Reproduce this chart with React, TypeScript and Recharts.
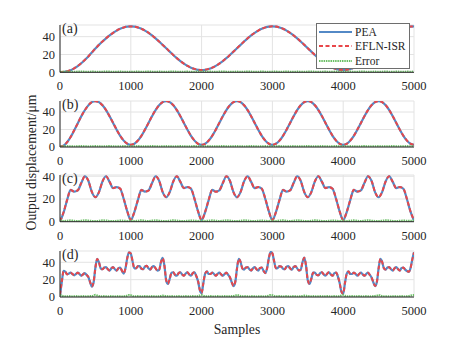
import { LineChart, Line, XAxis, YAxis, CartesianGrid, Legend } from 'recharts'

// sample index grids
const SAMPLES_50 = Array.from({ length: 101 }, (_, i) => i * 50)
const SAMPLES_25 = Array.from({ length: 201 }, (_, i) => i * 25)
const X_TICKS = [0, 1000, 2000, 3000, 4000, 5000]
const Y_TICKS = [0, 20, 40]
const SERIES_NAMES = ['PEA', 'EFLN-ISR', 'Error']
const PANEL_LABELS = ['(a)', '(b)', '(c)', '(d)']
const X_LABEL = 'Samples'
const Y_LABEL = 'Output displacement/μm'

// (a) slow sine, step 50
const PEA_A = [
  0, 0.3, 1.0, 2.4, 4.4, 7.0, 10.2, 13.8, 17.8, 22.2, 26.6, 30.8, 34.6, 38.1, 41.4, 44.3, 46.8, 48.8, 50.3, 51.2, 51.5,
  51.2, 50.3, 48.8, 46.8, 44.3, 41.4, 38.1, 34.6, 30.8, 27.0, 23.2, 19.4, 15.9, 12.6, 9.7, 7.2, 5.2, 3.7, 2.8, 2.5,
  2.8, 3.7, 5.2, 7.2, 9.7, 12.6, 15.9, 19.4, 23.2, 27.0, 30.8, 34.6, 38.1, 41.4, 44.3, 46.8, 48.8, 50.3, 51.2, 51.5,
  51.2, 50.3, 48.8, 46.8, 44.3, 41.4, 38.1, 34.6, 30.8, 27.0, 23.2, 19.4, 15.9, 12.6, 9.7, 7.2, 5.2, 3.7, 2.8, 2.5,
  2.8, 3.7, 5.2, 7.2, 9.7, 12.6, 15.9, 19.4, 23.2, 27.0, 30.8, 34.6, 38.1, 41.4, 44.3, 46.8, 48.8, 50.3, 51.2, 51.5,
]
const EFLN_A = [
  0.2, 0.5, 1.2, 2.5, 4.5, 7.1, 10.2, 13.9, 17.8, 22.3, 26.6, 30.9, 34.6, 38.2, 41.4, 44.3, 46.9, 48.8, 50.3, 51.3, 51.5,
  51.3, 50.3, 48.9, 46.8, 44.4, 41.4, 38.1, 34.7, 30.8, 27.1, 23.2, 19.5, 15.9, 12.7, 9.7, 7.3, 5.2, 3.8, 2.9, 2.6,
  2.9, 3.8, 5.2, 7.3, 9.7, 12.7, 15.9, 19.5, 23.2, 27.1, 30.8, 34.7, 38.1, 41.5, 44.3, 46.9, 48.8, 50.4, 51.2, 51.6,
  51.3, 50.3, 48.9, 46.8, 44.4, 41.4, 38.2, 34.6, 30.9, 27.0, 23.3, 19.4, 16.0, 12.6, 9.8, 7.2, 5.3, 3.7, 2.9, 2.5,
  2.9, 3.7, 5.3, 7.2, 9.8, 12.6, 16.0, 19.4, 23.3, 27.0, 30.9, 34.6, 38.2, 41.4, 44.4, 46.8, 48.9, 50.3, 51.3, 51.5,
]
const ERR_A = [
  0.4, 0.5, 0.7, 0.6, 0.5, 0.7, 0.8, 0.6, 0.5, 0.7, 0.6, 0.5, 0.6, 0.8, 0.7, 0.5, 0.6, 0.7, 0.5, 0.6, 0.5,
  0.6, 0.7, 0.5, 0.6, 0.8, 0.6, 0.5, 0.7, 0.6, 0.5, 0.7, 0.8, 0.6, 0.5, 0.6, 0.7, 0.5, 0.6, 0.7, 0.6,
  0.5, 0.7, 0.6, 0.5, 0.7, 0.8, 0.6, 0.5, 0.6, 0.7, 0.5, 0.6, 0.8, 0.7, 0.5, 0.6, 0.7, 0.6, 0.5, 0.6,
  0.7, 0.5, 0.6, 0.8, 0.6, 0.5, 0.7, 0.6, 0.5, 0.7, 0.8, 0.6, 0.5, 0.6, 0.7, 0.5, 0.6, 0.7, 0.6, 0.5,
  0.6, 0.7, 0.5, 0.6, 0.8, 0.7, 0.5, 0.6, 0.7, 0.5, 0.6, 0.8, 0.6, 0.5, 0.7, 0.6, 0.5, 0.7, 0.6, 0.8,
]

// (b) faster sine, step 50
const PEA_B = [
  0, 1.4, 5.4, 11.4, 19.0, 27.0, 35.0, 42.0, 47.6, 51.3, 52.5,
  51.3, 47.7, 42.2, 35.2, 27.5, 19.8, 12.8, 7.3, 3.7, 2.5,
  3.7, 7.3, 12.8, 19.8, 27.5, 35.2, 42.2, 47.7, 51.3, 52.5,
  51.3, 47.7, 42.2, 35.2, 27.5, 19.8, 12.8, 7.3, 3.7, 2.5,
  3.7, 7.3, 12.8, 19.8, 27.5, 35.2, 42.2, 47.7, 51.3, 52.5,
  51.3, 47.7, 42.2, 35.2, 27.5, 19.8, 12.8, 7.3, 3.7, 2.5,
  3.7, 7.3, 12.8, 19.8, 27.5, 35.2, 42.2, 47.7, 51.3, 52.5,
  51.3, 47.7, 42.2, 35.2, 27.5, 19.8, 12.8, 7.3, 3.7, 2.5,
  3.7, 7.3, 12.8, 19.8, 27.5, 35.2, 42.2, 47.7, 51.3, 52.5,
  51.3, 47.7, 42.2, 35.2, 27.5, 19.8, 12.8, 7.3, 3.7, 2.5,
]
const EFLN_B = [
  0.3, 1.6, 5.5, 11.5, 19.1, 27.0, 35.1, 42.0, 47.7, 51.3, 52.4,
  51.4, 47.7, 42.3, 35.2, 27.6, 19.8, 12.9, 7.3, 3.8, 2.6,
  3.8, 7.4, 12.8, 19.9, 27.5, 35.3, 42.2, 47.8, 51.3, 52.5,
  51.3, 47.8, 42.2, 35.3, 27.5, 19.9, 12.8, 7.4, 3.7, 2.6,
  3.7, 7.4, 12.9, 19.8, 27.6, 35.2, 42.3, 47.7, 51.4, 52.5,
  51.3, 47.7, 42.2, 35.2, 27.5, 19.8, 12.8, 7.3, 3.8, 2.5,
  3.8, 7.3, 12.9, 19.8, 27.5, 35.2, 42.3, 47.7, 51.3, 52.6,
  51.4, 47.7, 42.2, 35.3, 27.5, 19.9, 12.8, 7.3, 3.7, 2.6,
  3.7, 7.4, 12.8, 19.9, 27.5, 35.3, 42.2, 47.8, 51.3, 52.5,
  51.3, 47.8, 42.2, 35.2, 27.6, 19.8, 12.9, 7.3, 3.8, 2.6,
]
const ERR_B = [
  0.5, 0.7, 0.9, 0.7, 0.6, 0.8, 1.0, 0.8, 0.6, 0.7, 0.9,
  0.7, 0.6, 0.8, 1.0, 0.7, 0.6, 0.8, 0.9, 0.7, 0.6,
  0.8, 0.9, 0.7, 0.6, 0.8, 1.0, 0.8, 0.6, 0.7, 0.9,
  0.7, 0.6, 0.8, 0.9, 0.7, 0.6, 0.8, 1.0, 0.7, 0.6,
  0.8, 0.9, 0.7, 0.6, 0.8, 1.0, 0.7, 0.6, 0.8, 0.9,
  0.7, 0.6, 0.8, 1.0, 0.8, 0.6, 0.7, 0.9, 0.7, 0.6,
  0.8, 1.0, 0.7, 0.6, 0.8, 0.9, 0.7, 0.6, 0.8, 1.0,
  0.7, 0.6, 0.8, 0.9, 0.7, 0.6, 0.8, 1.0, 0.8, 0.6,
  0.7, 0.9, 0.7, 0.6, 0.8, 1.0, 0.7, 0.6, 0.8, 0.9,
  0.7, 0.6, 0.8, 1.0, 0.7, 0.6, 0.8, 0.9, 0.7, 0.8,
]

// (c) multi-harmonic, step 50
const PEA_C = [
  0, 8, 19, 28, 26.5, 27.5, 34, 40, 36, 26, 21.5, 26, 35.5, 40, 35, 29.5, 30.5, 29, 20, 9,
  1.5, 8.5, 19, 28, 26.5, 27.5, 34, 40, 36, 26, 21.5, 26, 35.5, 40, 35, 29.5, 30.5, 29, 20, 9,
  1.5, 8.5, 19, 28, 26.5, 27.5, 34, 40, 36, 26, 21.5, 26, 35.5, 40, 35, 29.5, 30.5, 29, 20, 9,
  1.5, 8.5, 19, 28, 26.5, 27.5, 34, 40, 36, 26, 21.5, 26, 35.5, 40, 35, 29.5, 30.5, 29, 20, 9,
  1.5, 8.5, 19, 28, 26.5, 27.5, 34, 40, 36, 26, 21.5, 26, 35.5, 40, 35, 29.5, 30.5, 29, 20, 9,
  1,
]
const EFLN_C = [
  0.4, 8.3, 19.2, 27.8, 26.6, 27.6, 34.2, 39.8, 36.1, 26.2, 21.6, 26.1, 35.4, 39.9, 35.2, 29.6, 30.4, 29.1, 20.2, 9.2,
  1.8, 8.6, 19.1, 27.9, 26.6, 27.4, 34.1, 39.9, 36.2, 26.1, 21.6, 26.2, 35.4, 40.0, 35.1, 29.6, 30.5, 29.2, 20.1, 9.1,
  1.7, 8.6, 19.2, 28.1, 26.4, 27.6, 34.1, 40.0, 35.9, 26.1, 21.4, 26.1, 35.6, 39.9, 35.1, 29.4, 30.6, 29.1, 20.2, 9.2,
  1.6, 8.4, 19.1, 27.9, 26.6, 27.5, 34.2, 39.9, 36.1, 26.2, 21.6, 26.1, 35.4, 40.0, 35.2, 29.6, 30.4, 29.0, 20.1, 9.1,
  1.7, 8.6, 19.1, 28.1, 26.5, 27.6, 34.1, 39.9, 36.1, 26.1, 21.5, 26.2, 35.5, 39.9, 35.1, 29.5, 30.5, 29.1, 20.2, 9.2,
  1.3,
]
const ERR_C = [
  1.2, 0.6, 0.8, 1.1, 0.7, 0.5, 0.8, 1.2, 0.9, 0.6, 0.5, 0.7, 1.1, 1.0, 0.6, 0.5, 0.7, 0.9, 0.8, 0.6,
  0.9, 0.6, 0.8, 1.2, 0.7, 0.5, 0.9, 1.1, 0.8, 0.6, 0.5, 0.8, 1.2, 0.9, 0.6, 0.5, 0.7, 1.0, 0.8, 0.6,
  1.0, 0.6, 0.8, 1.1, 0.8, 0.5, 0.8, 1.2, 0.9, 0.6, 0.5, 0.7, 1.1, 1.0, 0.6, 0.5, 0.8, 0.9, 0.7, 0.6,
  0.9, 0.6, 0.9, 1.2, 0.7, 0.5, 0.8, 1.1, 0.9, 0.6, 0.5, 0.7, 1.2, 0.9, 0.6, 0.5, 0.7, 1.0, 0.8, 0.6,
  1.0, 0.6, 0.8, 1.1, 0.7, 0.5, 0.9, 1.2, 0.8, 0.6, 0.5, 0.8, 1.1, 1.0, 0.6, 0.5, 0.7, 0.9, 0.8, 0.7,
  1.1,
]

// (d) stepped multi-tone, step 25
const PEA_D = [
  1, 17, 30, 29, 26, 27, 28, 26.5, 25, 26.5, 28, 26.5, 24.5, 26, 27.5, 25.5, 23, 17, 12, 17,
  34, 44, 40, 33, 32, 34, 34.5, 32, 30.5, 33, 34.5, 32, 30.5, 33, 34, 30, 27, 33, 45, 51.5,
  50, 41, 33, 33, 35.5, 35.5, 32.5, 32, 35, 36, 33, 31.5, 34.5, 35.5, 33, 30.5, 31, 40, 45, 36,
  19, 15, 21, 28, 28.5, 25.5, 24.5, 27.5, 28.5, 26, 24.5, 27, 28.5, 26, 24.5, 27.5, 28.5, 24, 18, 8,
  4.5, 16, 27, 29.5, 26.5, 26.5, 28, 26.5, 24.5, 26.5, 28, 26, 24.5, 26.5, 28, 25.5, 22.5, 17, 12.5, 17,
  33, 44, 40.5, 33, 31.5, 34, 34.5, 32, 30.5, 33, 34.5, 32, 30.5, 33.5, 34, 30, 27.5, 33, 45, 52,
  50, 41, 33, 33.5, 35.5, 35, 32.5, 32, 35, 35.5, 33, 31.5, 34.5, 35.5, 33, 30.5, 31.5, 40, 45.5, 36,
  19, 15, 21, 28, 28, 25.5, 25, 27.5, 28.5, 26, 24.5, 27, 28.5, 26, 24.5, 27.5, 28, 23.5, 16, 6,
  3.5, 16, 27, 29.5, 26.5, 26.5, 28, 26.5, 24.5, 26.5, 28, 26, 24.5, 26.5, 28, 25.5, 22.5, 17, 12.5, 17,
  33, 44, 40.5, 33, 31.5, 34, 34.5, 32, 30.5, 33, 34.5, 32, 30.5, 33.5, 34, 31.5, 30, 29, 33, 43,
  51.5,
]
const EFLN_D = [
  2.5, 17.5, 29.5, 29.2, 26.2, 27.1, 27.8, 26.6, 25.2, 26.4, 27.9, 26.6, 24.6, 26.1, 27.4, 25.6, 23.2, 17.3, 12.3, 17.4,
  33.6, 43.8, 40.2, 33.2, 32.1, 33.9, 34.4, 32.1, 30.6, 33.1, 34.4, 32.1, 30.6, 33.1, 33.9, 30.2, 27.3, 33.2, 44.8, 51.2,
  50.2, 41.3, 33.2, 33.1, 35.4, 35.4, 32.6, 32.1, 34.9, 35.9, 33.1, 31.6, 34.4, 35.4, 33.1, 30.6, 31.2, 39.8, 44.8, 36.3,
  19.3, 15.2, 21.2, 27.9, 28.4, 25.6, 24.6, 27.4, 28.4, 26.1, 24.6, 27.1, 28.4, 26.1, 24.6, 27.4, 28.4, 24.2, 18.3, 8.3,
  4.8, 16.3, 26.8, 29.4, 26.6, 26.6, 27.9, 26.6, 24.6, 26.4, 27.9, 26.1, 24.6, 26.4, 27.9, 25.6, 22.7, 17.2, 12.8, 17.3,
  32.8, 43.8, 40.4, 33.2, 31.6, 33.9, 34.4, 32.1, 30.6, 33.1, 34.4, 32.1, 30.6, 33.4, 33.9, 30.2, 27.7, 33.1, 44.8, 51.7,
  50.2, 41.3, 33.2, 33.6, 35.4, 35.1, 32.6, 32.1, 34.9, 35.4, 33.1, 31.6, 34.4, 35.4, 33.1, 30.6, 31.6, 39.8, 45.3, 36.3,
  19.3, 15.2, 21.2, 27.9, 28.1, 25.6, 25.1, 27.4, 28.4, 26.1, 24.6, 27.1, 28.4, 26.1, 24.6, 27.4, 28.1, 23.7, 16.3, 6.3,
  3.8, 16.3, 26.8, 29.4, 26.6, 26.6, 27.9, 26.6, 24.6, 26.4, 27.9, 26.1, 24.6, 26.4, 27.9, 25.6, 22.7, 17.2, 12.8, 17.3,
  32.8, 43.8, 40.4, 33.2, 31.6, 33.9, 34.4, 32.1, 30.6, 33.1, 34.4, 32.1, 30.6, 33.4, 33.9, 31.6, 30.1, 29.2, 32.8, 42.8,
  51.2,
]
const ERR_D = [
  2.2, 1.4, 0.9, 0.7, 0.8, 0.9, 0.7, 0.6, 0.8, 0.9, 0.7, 0.6, 0.8, 0.9, 0.7, 0.6, 0.8, 0.9, 1.1, 1.6,
  2.4, 1.7, 1.0, 0.7, 0.8, 0.9, 0.7, 0.6, 0.8, 0.9, 0.7, 0.6, 0.8, 0.9, 0.7, 0.6, 0.8, 1.0, 1.6, 2.3,
  2.0, 1.2, 0.8, 0.7, 0.9, 0.8, 0.6, 0.7, 0.9, 0.8, 0.6, 0.7, 0.9, 0.8, 0.6, 0.7, 0.9, 1.1, 1.5, 1.3,
  1.0, 0.8, 0.7, 0.9, 0.8, 0.6, 0.7, 0.9, 0.8, 0.6, 0.7, 0.9, 0.8, 0.6, 0.7, 0.9, 0.8, 0.7, 1.0, 1.6,
  2.1, 1.3, 0.9, 0.7, 0.8, 0.9, 0.7, 0.6, 0.8, 0.9, 0.7, 0.6, 0.8, 0.9, 0.7, 0.6, 0.8, 0.9, 1.1, 1.5,
  2.2, 1.6, 1.0, 0.7, 0.8, 0.9, 0.7, 0.6, 0.8, 0.9, 0.7, 0.6, 0.8, 0.9, 0.7, 0.6, 0.8, 1.0, 1.6, 2.2,
  2.0, 1.2, 0.8, 0.7, 0.9, 0.8, 0.6, 0.7, 0.9, 0.8, 0.6, 0.7, 0.9, 0.8, 0.6, 0.7, 0.9, 1.1, 1.5, 1.3,
  1.1, 0.8, 0.7, 0.9, 0.8, 0.6, 0.7, 0.9, 0.8, 0.6, 0.7, 0.9, 0.8, 0.6, 0.7, 0.9, 0.8, 0.7, 1.0, 1.7,
  2.2, 1.3, 0.9, 0.7, 0.8, 0.9, 0.7, 0.6, 0.8, 0.9, 0.7, 0.6, 0.8, 0.9, 0.7, 0.6, 0.8, 0.9, 1.1, 1.5,
  2.3, 1.6, 1.0, 0.7, 0.8, 0.9, 0.7, 0.6, 0.8, 0.9, 0.7, 0.6, 0.8, 0.9, 0.7, 0.6, 0.8, 1.0, 1.5, 2.0,
  2.2,
]

const FONT = '"Liberation Serif", "Times New Roman", serif'
const INK = '#262626'
const BLUE = '#5389c6'
const RED = '#e8474a'
const GREEN = '#6cbf66'
const TICK = { fontSize: 12.5, fill: INK, fontFamily: FONT }

const LEGEND_STYLES = [
  { color: BLUE, dash: undefined, width: 2 },
  { color: RED, dash: '4 2.5', width: 2 },
  { color: GREEN, dash: '1.5 0.8', width: 2 },
]

const toRows = (t: number[], pea: number[], efln: number[], err: number[]) =>
  t.map((x, i) => ({ t: x, pea: pea[i], efln: efln[i], err: err[i] }))

const PANELS = [
  { top: 25, h: 47.3, yMax: 53.1, data: toRows(SAMPLES_50, PEA_A, EFLN_A, ERR_A) },
  { top: 100.7, h: 46, yMax: 52.6, data: toRows(SAMPLES_50, PEA_B, EFLN_B, ERR_B) },
  { top: 175, h: 46.7, yMax: 41.1, data: toRows(SAMPLES_50, PEA_C, EFLN_C, ERR_C) },
  { top: 250.7, h: 46, yMax: 53, data: toRows(SAMPLES_25, PEA_D, EFLN_D, ERR_D) },
]

function LegendBox() {
  return (
    <div style={{
      width: 94, height: 46, boxSizing: 'border-box', border: '1px solid #6e6e6e',
      background: '#fff', position: 'relative',
    }}>
      {SERIES_NAMES.map((name, i) => (
        <div key={name} style={{
          position: 'absolute', left: 2, top: 1.6 + i * 14.2, height: 14,
          display: 'flex', alignItems: 'center',
        }}>
          <svg width={33} height={14}>
            <line x1={0} y1={7} x2={33} y2={7} stroke={LEGEND_STYLES[i].color}
              strokeWidth={LEGEND_STYLES[i].width} strokeDasharray={LEGEND_STYLES[i].dash} />
          </svg>
          <span style={{ marginLeft: 3, fontSize: 11.5, fontFamily: FONT, color: INK, lineHeight: '14px' }}>{name}</span>
        </div>
      ))}
    </div>
  )
}

function Panel({ top, h, yMax, data, withLegend }: {
  top: number; h: number; yMax: number; data: any[]; withLegend: boolean
}) {
  const chartTop = top - 5
  return (
    <div style={{ position: 'absolute', left: 0, top: chartTop }}>
      <LineChart width={457} height={h + 5 + 24} data={data} margin={{ top: 5, right: 43, bottom: 0, left: 0 }}>
        <CartesianGrid stroke="#e3e3e3" />
        <XAxis dataKey="t" type="number" domain={[0, 5000]} ticks={X_TICKS} height={24} interval={0}
          tickSize={0} tickMargin={9} tickLine={false} tick={TICK} axisLine={{ stroke: INK }} allowDataOverflow />
        <YAxis type="number" domain={[0, yMax]} ticks={Y_TICKS} width={60} interval={0}
          tickSize={0} tickMargin={5} tickLine={false} tick={TICK} axisLine={{ stroke: INK }} allowDataOverflow />
        <Line type="monotone" dataKey="pea" name={SERIES_NAMES[0]} stroke={BLUE} strokeWidth={2.2}
          dot={false} isAnimationActive={false} />
        <Line type="monotone" dataKey="efln" name={SERIES_NAMES[1]} stroke={RED} strokeWidth={2}
          strokeDasharray="4 2.5" dot={false} isAnimationActive={false} />
        <Line type="monotone" dataKey="err" name={SERIES_NAMES[2]} stroke={GREEN} strokeWidth={2.2}
          strokeDasharray="1.5 0.8" dot={false} isAnimationActive={false} />
        {withLegend && (
          <Legend layout="vertical" align="center" verticalAlign="middle"
            wrapperStyle={{ left: 316, top: 22.7 - chartTop, width: 94 }}
            content={() => <LegendBox />} />
        )}
      </LineChart>
    </div>
  )
}

export default function App() {
  return (
    <div style={{ position: 'absolute', left: 0, top: 0, width: 457, height: 343, background: '#fff', fontFamily: FONT }}>
      {PANELS.map((p, i) => (
        <Panel key={i} top={p.top} h={p.h} yMax={p.yMax} data={p.data} withLegend={i === 0} />
      ))}
      <svg width={457} height={343} style={{ position: 'absolute', left: 0, top: 0, pointerEvents: 'none' }}>
        {PANELS.map((p, i) => (
          <text key={i} x={62} y={p.top + 8.3} fontSize={14} fontFamily={FONT} fill={INK}>{PANEL_LABELS[i]}</text>
        ))}
        <text x={237} y={334} textAnchor="middle" fontSize={13.75} fontFamily={FONT} fill={INK}>{X_LABEL}</text>
        <text transform="translate(36, 162.5) rotate(-90)" textAnchor="middle" fontSize={13.75} fontFamily={FONT} fill={INK}>{Y_LABEL}</text>
      </svg>
    </div>
  )
}
